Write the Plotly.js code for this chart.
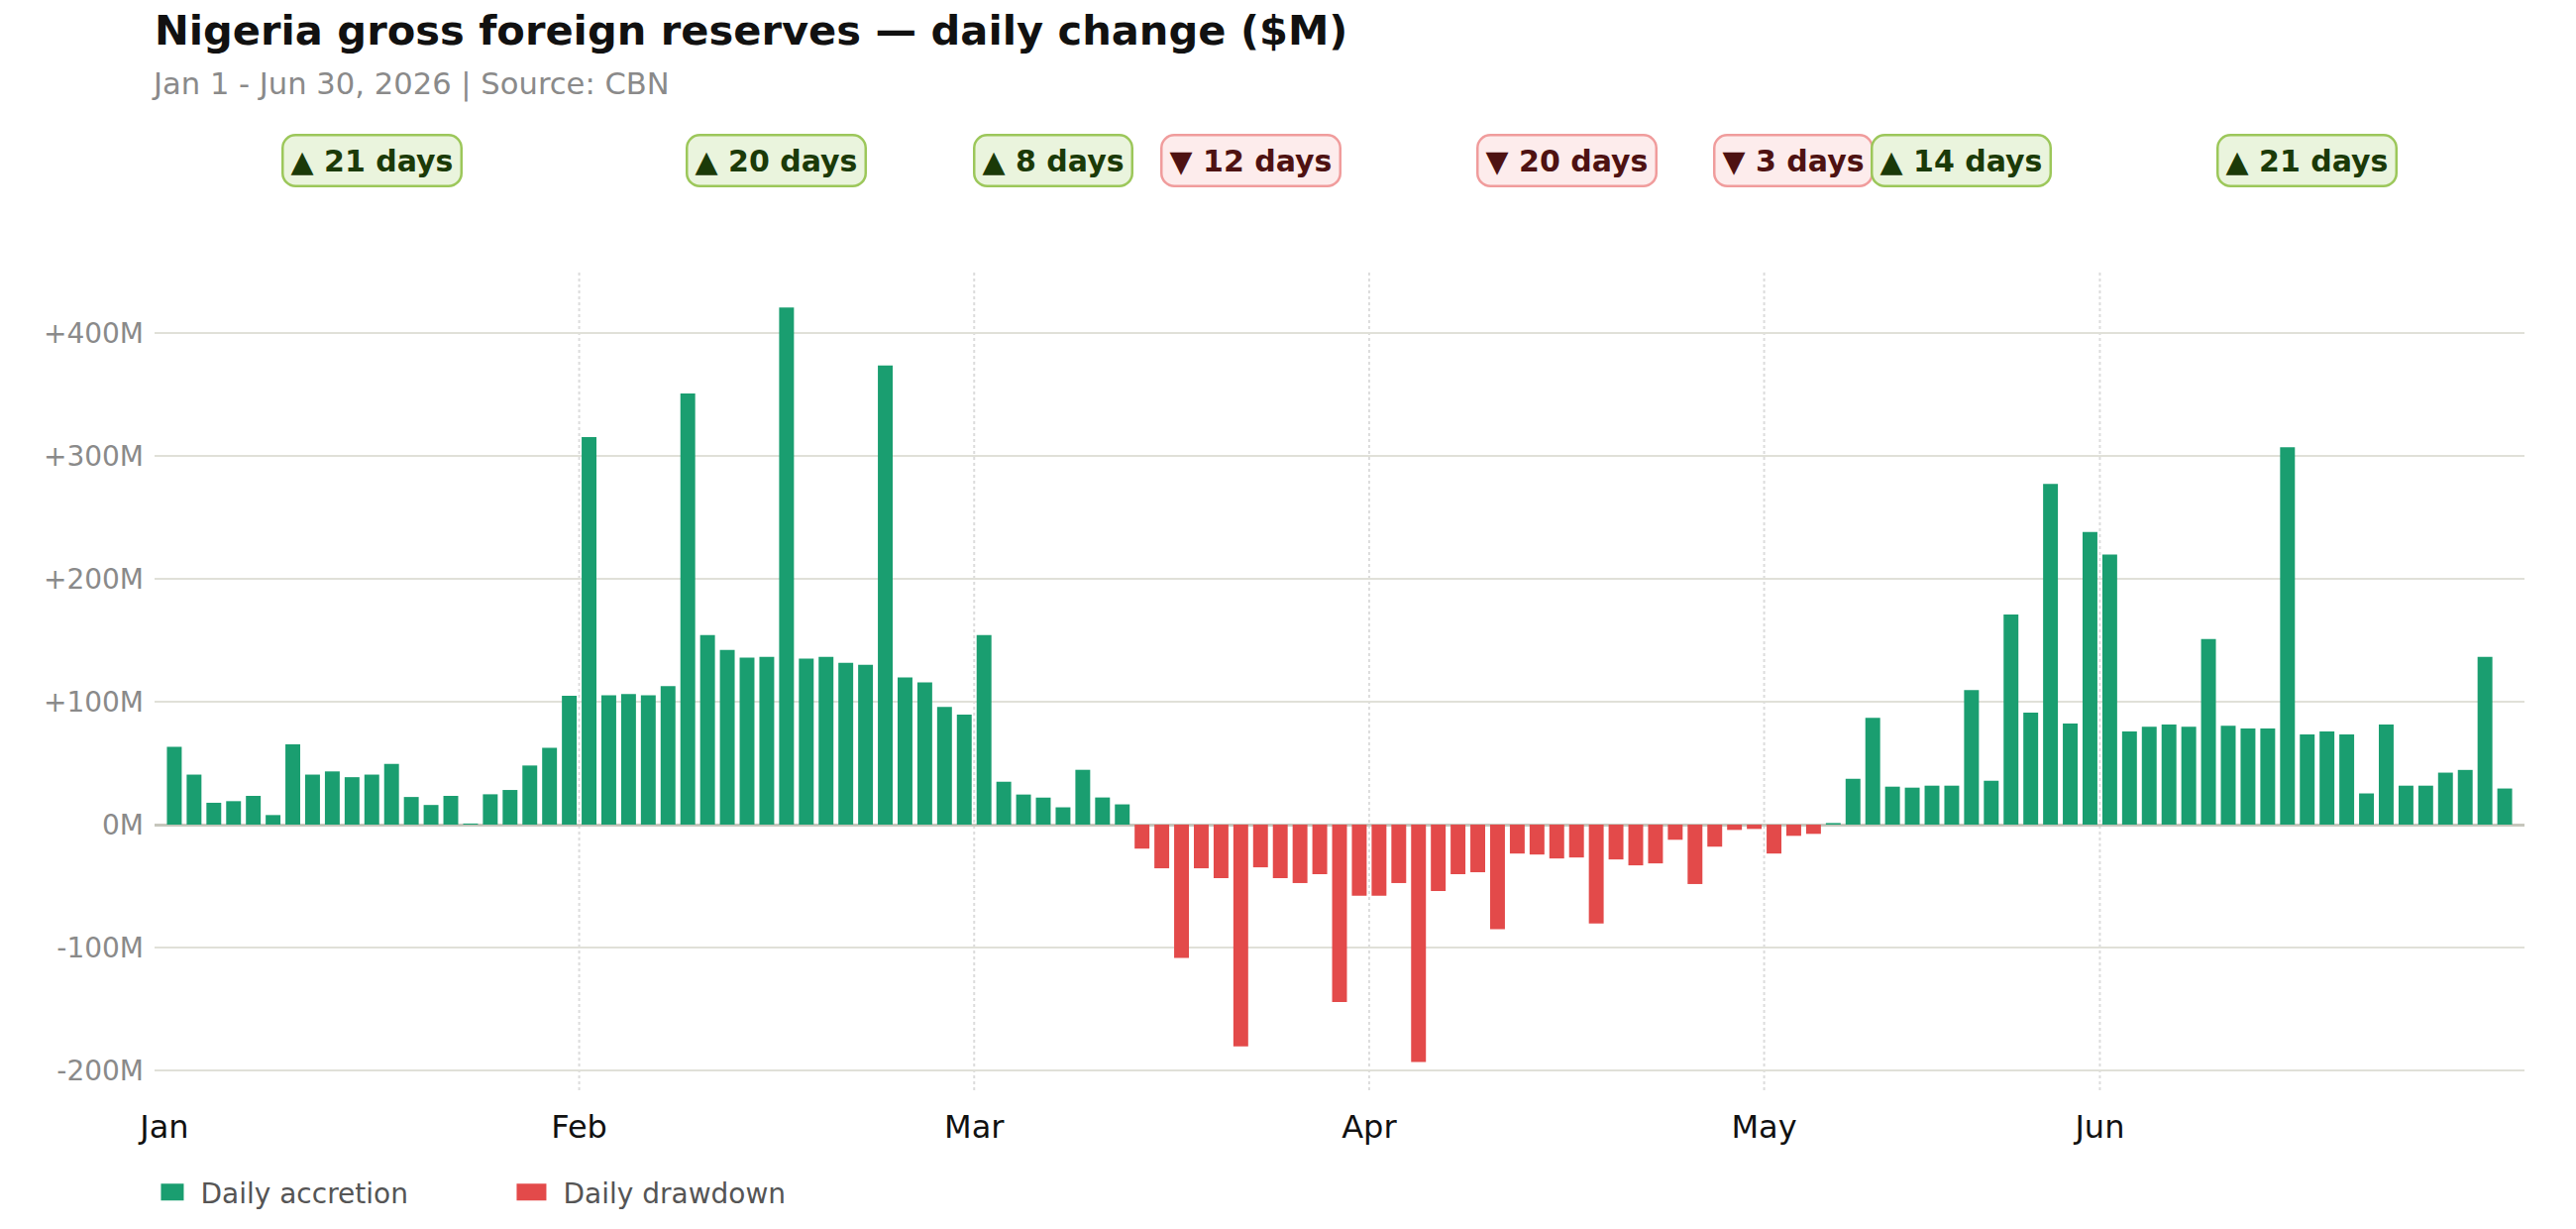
<!DOCTYPE html>
<html>
<head>
<meta charset="utf-8">
<script src="https://cdn.plot.ly/plotly-3.0.1.min.js"></script>
<style>
  html, body { margin: 0; padding: 0; background: #fff; }
  #chart { width: 2600px; height: 1240px; }
</style>
</head>
<body>
<div id="chart"></div>
<script>
// month labels and daily change ($M) per business day
var months = ['Jan', 'Feb', 'Mar', 'Apr', 'May', 'Jun'];
var janChange = [63.3, 40.7, 17.8, 19.1, 23.4, 7.8, 65.4, 40.7, 43.3, 38.6, 40.7, 49.4, 22.5, 16.0, 23.4, 0.9, 24.7, 28.2, 48.1, 62.4, 104.9];
var febChange = [315.1, 105.3, 106.2, 105.3, 112.6, 350.7, 154.2, 142.0, 135.9, 136.5, 420.5, 135.0, 136.5, 131.6, 130.1, 373.4, 119.7, 115.7, 95.8, 89.4];
var marChange = [154.2, 34.9, 24.5, 22.0, 14.1, 44.6, 22.1, 16.5, -19.5, -35.5, -108.3, -35.5, -43.5, -180.3, -34.7, -43.5, -47.5, -40.3, -144.3, -57.9];
var aprChange = [-57.9, -47.5, -193.1, -53.9, -40.3, -38.7, -85.1, -23.5, -24.3, -27.5, -26.7, -80.3, -28.3, -33.1, -31.5, -12.3, -48.3, -17.9, -4.3, -3.5];
var mayChange = [-23.5, -9.1, -7.5, 1.3, 37.3, 86.9, 30.9, 30.1, 31.7, 31.7, 109.4, 35.7, 171.0, 91.1, 277.2, 82.2, 238.1];
var junChange = [219.6, 75.7, 79.7, 81.4, 79.7, 151.0, 80.5, 78.2, 78.2, 306.9, 73.4, 75.7, 73.4, 25.4, 81.4, 31.7, 31.7, 42.3, 44.5, 136.5, 29.4];
var yTicks = [-200, -100, 0, 100, 200, 300, 400];

var GREEN = '#1a9e70', RED = '#e34a4a';

var perMonth = [janChange, febChange, marChange, aprChange, mayChange, junChange];
var values = [], idx = [], monthStart = [];
perMonth.forEach(function (arr) {
  monthStart.push(values.length);
  arr.forEach(function (v) { idx.push(values.length); values.push(v); });
});

var up = values.map(function (v) { return v >= 0 ? v : null; });
var down = values.map(function (v) { return v < 0 ? v : null; });

// streak boxes: runs of same sign inside each month
var annotations = [];
perMonth.forEach(function (arr, m) {
  var start = 0;
  for (var i = 1; i <= arr.length; i++) {
    if (i == arr.length || (arr[i] >= 0) != (arr[start] >= 0)) {
      var pos = arr[start] >= 0;
      var n = i - start;
      annotations.push({
        x: monthStart[m] + (start + i - 1) / 2, xref: 'x',
        y: 1.137, yref: 'paper', yanchor: 'middle',
        text: '<b>' + (pos ? '▲ ' : '▼ ') + n + ' days</b>',
        showarrow: false,
        font: { family: 'DejaVu Sans', size: 30, color: pos ? '#1b3a08' : '#4e1212' },
        bgcolor: pos ? '#eaf4dd' : '#fdecec',
        bordercolor: pos ? '#9cc75a' : '#f09c9c',
        borderwidth: 2.5, borderpad: 7
      });
      start = i;
    }
  }
});

annotations.push({
  text: 'Jan 1 - Jun 30, 2026 | Source: CBN',
  xref: 'paper', yref: 'paper', x: -0.0022, y: 1.2305,
  xanchor: 'left', yanchor: 'middle', showarrow: false,
  font: { family: 'DejaVu Sans', size: 30.6, color: '#8a8a8a' }
});

// dotted month separators (none on the first month)
var shapes = monthStart.slice(1).map(function (s) {
  return {
    type: 'line', xref: 'x', yref: 'paper', x0: s - 0.5, x1: s - 0.5, y0: 0, y1: 1,
    line: { color: '#dcdcdc', width: 2, dash: 'dot' }, layer: 'below'
  };
});

var data = [{
  type: 'bar', name: 'Daily accretion', x: idx, y: up,
  marker: { color: GREEN }, hoverinfo: 'y'
}, {
  type: 'bar', name: 'Daily drawdown', x: idx, y: down,
  marker: { color: RED }, hoverinfo: 'y'
}];

var layout = {
  width: 2600, height: 1240,
  margin: { l: 156, r: 52, t: 275, b: 132 },
  paper_bgcolor: '#fff', plot_bgcolor: '#fff',
  font: { family: 'DejaVu Sans', color: '#555' },
  title: {
    text: '<b>Nigeria gross foreign reserves — daily change ($M)</b>',
    xref: 'container', yref: 'container', x: 0.06, y: 1 - 30 / 1240,
    xanchor: 'left', yanchor: 'middle',
    font: { family: 'DejaVu Sans', size: 41.6, color: '#111' }
  },
  barmode: 'overlay', bargap: 0.25,
  xaxis: {
    range: [-1, 119],
    tickvals: monthStart.map(function (s) { return s - 0.5; }),
    ticktext: months,
    showgrid: false, zeroline: false, showline: false, ticks: '',
    ticklabelstandoff: 15,
    tickfont: { family: 'DejaVu Sans', size: 32, color: '#111' }
  },
  yaxis: {
    range: [-216, 449],
    tickvals: yTicks,
    ticktext: yTicks.map(function (v) { return (v > 0 ? '+' : '') + v + 'M'; }),
    gridcolor: '#e0e0d8', gridwidth: 2,
    zeroline: true, zerolinecolor: '#c6c6bc', zerolinewidth: 3,
    showline: false, ticks: '', ticklabelstandoff: 10,
    tickfont: { family: 'DejaVu Sans', size: 28, color: '#8a8a8a' }
  },
  showlegend: true,
  legend: {
    orientation: 'h', x: 0.0027, xanchor: 'left', y: -0.125, yanchor: 'middle',
    font: { family: 'DejaVu Sans', size: 28, color: '#555' },
    entrywidth: 321, traceorder: 'normal'
  },
  annotations: annotations,
  shapes: shapes
};

Plotly.newPlot('chart', data, layout, { displayModeBar: false, staticPlot: true }).then(function () {
  document.querySelectorAll('.annotation rect.bg').forEach(function (r) {
    r.setAttribute('rx', 13);
    r.setAttribute('ry', 13);
  });
  // wider legend swatches, like the reference
  document.querySelectorAll('.legendpoints path').forEach(function (p) {
    p.setAttribute('d', 'M-27,-8.5H3V8.5H-27Z');
  });
});
</script>
</body>
</html>
